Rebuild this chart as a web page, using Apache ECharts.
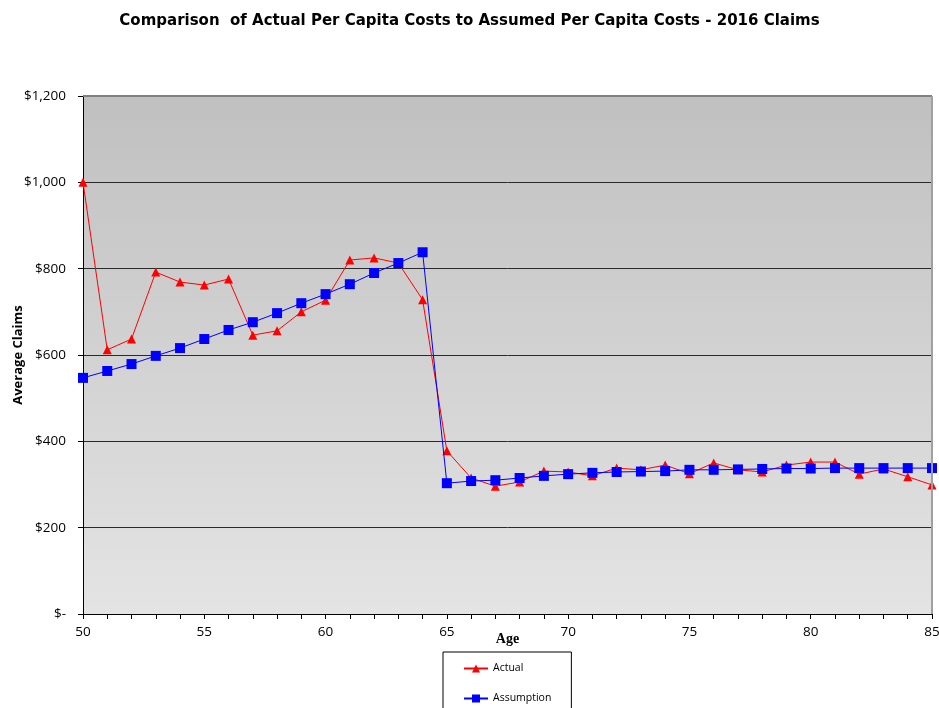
<!DOCTYPE html>
<html>
<head>
<meta charset="utf-8">
<script src="https://cdn.jsdelivr.net/npm/echarts@6/dist/echarts.min.js"></script>
<style>
html,body{margin:0;padding:0;background:#fff;}
#chart{width:939px;height:708px;}
</style>
</head>
<body>
<div id="chart"></div>
<script>
const ages = [50,51,52,53,54,55,56,57,58,59,60,61,62,63,64,65,66,67,68,69,70,71,72,73,74,75,76,77,78,79,80,81,82,83,84,85];
const actual = [1000,612,637,792,769,762,776,646,656,700,727,820,825,813,728,378,315,296,306,331,329,320,338,334,345,325,350,334,329,345,352,352,324,336,318,299];
const assumption = [547,563,579,598,616,637,658,676,697,720,741,764,790,813,838,303,308,310,315,320,324,327,329,330,331,334,334,335,336,337,337,338,338,338,338,338];
const yTicks = [0,200,400,600,800,1000,1200];

const chart = echarts.init(document.getElementById('chart'));
const fontMain = '"Open Sans", Lato, sans-serif';
function fmtMoney(v){ return v === 0 ? '$-' : '$' + v.toLocaleString('en-US'); }

chart.setOption({
  animation: false,
  title: {
    text: 'Comparison  of Actual Per Capita Costs to Assumed Per Capita Costs - 2016 Claims',
    left: 'center', top: 9,
    textStyle: { fontFamily: '"DejaVu Sans", sans-serif', fontSize: 15, fontWeight: 'bold', color: '#000' }
  },
  grid: {
    left: 83, right: 7, top: 96, bottom: 94,
    outerBoundsMode: 'none',
    containLabel: false,
    show: true, borderWidth: 0,
    backgroundColor: new echarts.graphic.LinearGradient(0,0,0,1,[
      {offset:0,color:'#c0c0c0'},{offset:1,color:'#e4e4e4'}
    ])
  },
  legend: {
    orient: 'vertical', left: 443, top: 652,
    height: 60,
    padding: [11, 20, 12, 20],
    itemGap: 19,
    itemWidth: 24, itemHeight: 10,
    borderColor: '#000', borderWidth: 1,
    textStyle: { fontFamily: fontMain, fontSize: 10.5, color: '#000' },
    data: ['Actual','Assumption']
  },
  xAxis: {
    type: 'value', min: 50, max: 85, interval: 1,
    name: 'Age', nameLocation: 'middle', nameGap: 18, nameMoveOverlap: false,
    nameTextStyle: { fontFamily: '"Liberation Serif", serif', fontWeight: 'bold', fontSize: 14, color: '#000' },
    axisLine: { show: true, lineStyle: { color: '#000', width: 1 } },
    axisTick: { show: true, length: 5, lineStyle: { color: '#000' } },
    splitLine: { show: false },
    axisLabel: {
      margin: 11, fontFamily: fontMain, fontSize: 13.5, color: '#000',
      formatter: v => (v % 5 === 0 ? String(v) : '')
    }
  },
  yAxis: {
    type: 'value', min: 0, max: 1200, interval: 200,
    name: 'Average Claims', nameLocation: 'middle', nameGap: 58, nameRotate: 90, nameMoveOverlap: false,
    nameTextStyle: { fontFamily: fontMain, fontWeight: 'bold', fontSize: 13, color: '#000' },
    axisLine: { show: true, lineStyle: { color: '#000', width: 1 } },
    axisTick: { show: true, length: 5, lineStyle: { color: '#000' } },
    splitLine: { show: true, lineStyle: { color: '#2a2a2a', width: 1 } },
    axisLabel: { margin: 17, fontFamily: fontMain, fontSize: 13.5, color: '#000', formatter: fmtMoney }
  },
  series: [
    {
      name: 'Actual', type: 'line',
      data: ages.map((a,i)=>[a, actual[i]]),
      symbol: 'triangle', symbolSize: 9,
      lineStyle: { color: '#ff0000', width: 1 },
      itemStyle: { color: '#ff0000' },
      z: 3
    },
    {
      name: 'Assumption', type: 'line',
      data: ages.map((a,i)=>[a, assumption[i]]),
      symbol: 'rect', symbolSize: 10,
      lineStyle: { color: '#0000ff', width: 1 },
      itemStyle: { color: '#0000ff' },
      z: 4
    }
  ],
  graphic: [
    { type: 'line', shape: { x1: 83, y1: 96, x2: 932, y2: 96 }, style: { stroke: '#808080', lineWidth: 2 }, z: 10 },
    { type: 'line', shape: { x1: 932, y1: 96, x2: 932, y2: 614 }, style: { stroke: '#a0a0a0', lineWidth: 2 }, z: 10 }
  ]
});
</script>
</body>
</html>
